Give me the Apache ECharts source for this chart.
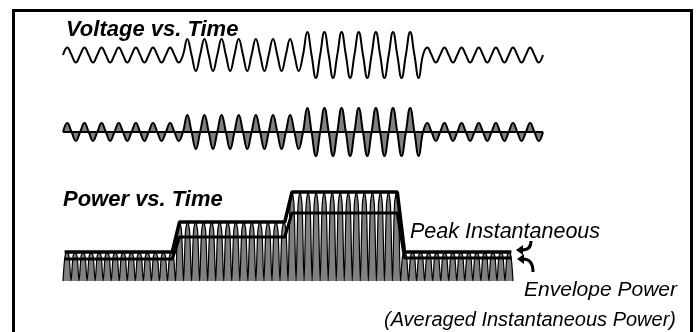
<!DOCTYPE html>
<html>
<head>
<meta charset="utf-8">
<script src="https://cdn.jsdelivr.net/npm/echarts@6/dist/echarts.min.js"></script>
<style>
  html, body { margin: 0; padding: 0; background: #fff; }
  #main { width: 698px; height: 332px; }
</style>
</head>
<body>
<div id="main"></div>
<script>
// cycles in each of the four time segments
const segCycles = [7, 7, 7, 7];
// voltage amplitude per segment (outline wave, filled wave)
const voltAmpTop = [7.5, 16, 23, 7.5];
const voltAmpFilled = [9, 17, 24, 9];
// power levels per segment: peak instantaneous and averaged (envelope)
const peakPower = [29, 59, 89, 29];
const avgPower = [22, 44, 68, 23];
// relative height of a power pulse at its quarter points
const pulseShape = [0, 0.85, 1, 0.85];

const FONT = '"Liberation Sans", Arial, sans-serif';

// voltage wave: zero, peak, zero, trough for every cycle
function voltWave(amps) {
  const pts = [];
  let t = 0;
  segCycles.forEach(function (n, s) {
    for (let k = 0; k < n; k++) {
      pts.push([t, 0], [t + 0.25, amps[s]], [t + 0.5, 0], [t + 0.75, -amps[s]]);
      t++;
    }
  });
  pts.push([t, 0]);
  return pts;
}

// power: two pulses per voltage cycle
function powerPulses() {
  const pts = [];
  let p = 0;
  segCycles.forEach(function (n, s) {
    for (let k = 0; k < n * 2; k++) {
      pulseShape.forEach(function (f, q) {
        pts.push([p + q / 4, f * peakPower[s]]);
      });
      p++;
    }
  });
  pts.push([p, 0]);
  return pts;
}

function envelope(levels) {
  const pts = [];
  let p = 0;
  segCycles.forEach(function (n, s) {
    const end = p + n * 2;
    pts.push([p === 0 ? 0.2 : p + 0.5, levels[s]]);
    pts.push([end === 56 ? 55.8 : end - 0.4, levels[s]]);
    p = end;
  });
  return pts;
}

const totalCycles = segCycles.reduce(function (a, b) { return a + b; }, 0);

const chart = echarts.init(document.getElementById('main'));
chart.setOption({
  animation: false,
  backgroundColor: '#fff',
  grid: [
    { left: 63, width: 480, top: 25, height: 60 },
    { left: 63, width: 480, top: 102, height: 60 },
    { left: 63, width: 450, top: 181, height: 100 }
  ],
  xAxis: [
    { gridIndex: 0, type: 'value', min: 0, max: totalCycles, show: false },
    { gridIndex: 1, type: 'value', min: 0, max: totalCycles, show: false },
    { gridIndex: 2, type: 'value', min: 0, max: totalCycles * 2, show: false }
  ],
  yAxis: [
    { gridIndex: 0, type: 'value', min: -30, max: 30, show: false },
    { gridIndex: 1, type: 'value', min: -30, max: 30, show: false },
    { gridIndex: 2, type: 'value', min: 0, max: 100, show: false }
  ],
  series: [
    {
      type: 'line', xAxisIndex: 0, yAxisIndex: 0,
      data: voltWave(voltAmpTop), smooth: 0.45, symbol: 'none',
      lineStyle: { color: '#000', width: 2 }
    },
    {
      type: 'line', xAxisIndex: 1, yAxisIndex: 1,
      data: voltWave(voltAmpFilled), smooth: 0.45, symbol: 'none',
      lineStyle: { color: '#000', width: 2 },
      areaStyle: { color: '#808080', opacity: 1 }
    },
    {
      type: 'line', xAxisIndex: 1, yAxisIndex: 1,
      data: [[0, 0], [totalCycles, 0]], symbol: 'none',
      lineStyle: { color: '#000', width: 2 }
    },
    {
      type: 'line', xAxisIndex: 2, yAxisIndex: 2,
      data: powerPulses(), smooth: 0.3, symbol: 'none',
      lineStyle: { color: '#000', width: 1.2 },
      areaStyle: { color: '#808080', opacity: 1 }
    },
    {
      type: 'line', xAxisIndex: 2, yAxisIndex: 2,
      data: envelope(avgPower), symbol: 'none',
      lineStyle: { color: '#000', width: 3 }
    },
    {
      type: 'line', xAxisIndex: 2, yAxisIndex: 2,
      data: envelope(peakPower), symbol: 'none',
      lineStyle: { color: '#000', width: 3.5 }
    }
  ],
  graphic: [
    {
      type: 'rect', z: 100, silent: true,
      shape: { x: 13.5, y: 10.5, width: 678, height: 340 },
      style: { fill: 'none', stroke: '#000', lineWidth: 3 }
    },
    {
      type: 'text', z: 100, x: 66, y: 30,
      style: { text: 'Voltage vs. Time', font: 'italic bold 22px ' + FONT, fill: '#000', verticalAlign: 'middle' }
    },
    {
      type: 'text', z: 100, x: 63, y: 200,
      style: { text: 'Power vs. Time', font: 'italic bold 22px ' + FONT, fill: '#000', verticalAlign: 'middle' }
    },
    {
      type: 'text', z: 100, x: 410, y: 232,
      style: { text: 'Peak Instantaneous', font: 'italic 21.5px ' + FONT, fill: '#000', verticalAlign: 'middle' }
    },
    {
      type: 'text', z: 100, x: 677, y: 290,
      style: { text: 'Envelope Power', font: 'italic 21px ' + FONT, fill: '#000', align: 'right', verticalAlign: 'middle' }
    },
    {
      type: 'text', z: 100, x: 676, y: 320,
      style: { text: '(Averaged Instantaneous Power)', font: 'italic 20px ' + FONT, fill: '#000', align: 'right', verticalAlign: 'middle' }
    },
    {
      type: 'bezierCurve', z: 100,
      shape: { x1: 531, y1: 241, cpx1: 531, cpy1: 250, x2: 522, y2: 250 },
      style: { stroke: '#000', lineWidth: 3, fill: 'none' }
    },
    {
      type: 'polygon', z: 100,
      shape: { points: [[516, 250], [523, 245], [523, 255]] },
      style: { fill: '#000' }
    },
    {
      type: 'bezierCurve', z: 100,
      shape: { x1: 533, y1: 272, cpx1: 533, cpy1: 259, x2: 523, y2: 259 },
      style: { stroke: '#000', lineWidth: 3, fill: 'none' }
    },
    {
      type: 'polygon', z: 100,
      shape: { points: [[517, 259], [524, 254], [524, 264]] },
      style: { fill: '#000' }
    }
  ]
});
</script>
</body>
</html>
